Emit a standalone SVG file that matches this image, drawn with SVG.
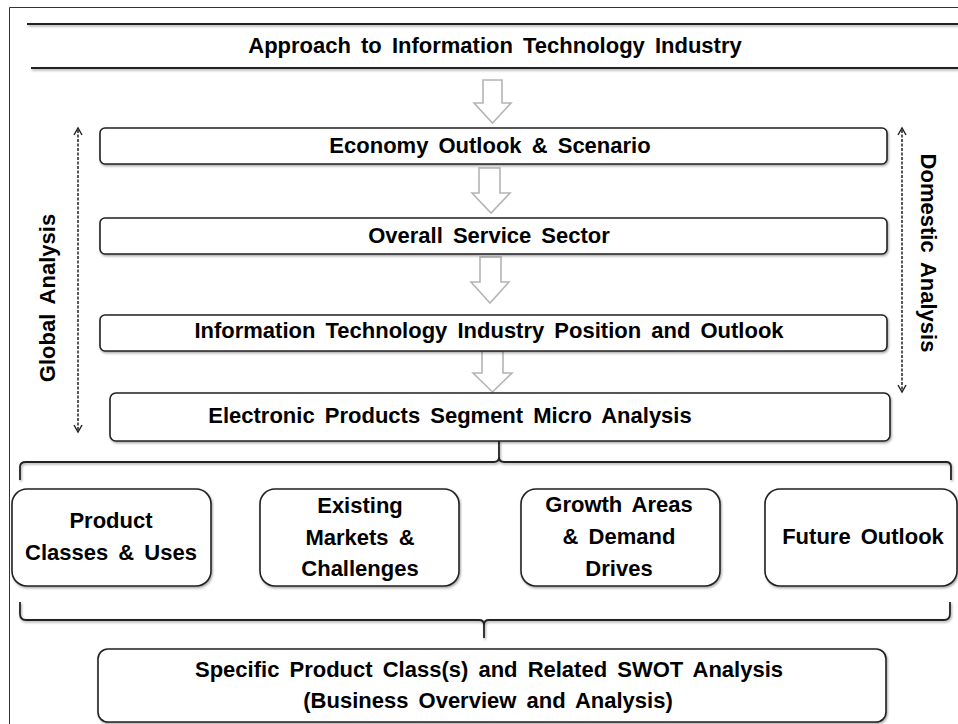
<svg xmlns="http://www.w3.org/2000/svg" width="958" height="724" viewBox="0 0 958 724">
<defs>
<style>
text{font-family:"Liberation Sans",Arial,sans-serif;font-weight:bold;font-size:22px;fill:#000;text-anchor:middle;word-spacing:4px}
.box{fill:#fff;stroke:#222;stroke-width:1.6}
.hollow{fill:#fff;stroke:#b4b4b4;stroke-width:1.6;stroke-linejoin:miter}
.line{fill:none;stroke:#222;stroke-width:1.8}
.dash{fill:none;stroke:#222;stroke-width:1.5;stroke-dasharray:3 1.5}
.head{fill:none;stroke:#222;stroke-width:1.4}
</style>
<filter id="sh" x="-5%" y="-20%" width="110%" height="150%">
<feDropShadow dx="1" dy="1.5" stdDeviation="0.8" flood-color="#000" flood-opacity="0.35"/>
</filter>
</defs>
<rect x="0" y="0" width="958" height="724" fill="#fff"/>
<path d="M9.5 724 V7.5 H958" fill="none" stroke="#333" stroke-width="1"/>

<g id="title">
<path class="line" filter="url(#sh)" d="M27 24 H958 M31 68 H958"/>
<text x="495" y="53">Approach to Information Technology Industry</text>
</g>

<g id="connectors">
<path class="hollow" d="M483 80 H502 V103 H511 L492.5 123 L474 103 H483 Z"/>
<path class="hollow" d="M479 168 H500 V193 H510 L491 213 L472 193 H479 Z"/>
<path class="hollow" d="M480 257 H501 V282 H509 L490 303 L471 282 H480 Z"/>
<path class="hollow" d="M482 351 H503 V373 H512 L492.5 392 L473 373 H482 Z"/>
<path class="dash" d="M78 130 V430"/>
<path class="head" d="M74 135 L78 128 L82 135 M74 425 L78 432 L82 425"/>
<path class="dash" d="M902 130 V390"/>
<path class="head" d="M898 135 L902 128 L906 135 M898 385 L902 392 L906 385"/>
<path class="line" filter="url(#sh)" d="M20 480 V467 Q20 462 26 462 H494 Q499 462 499 457 V441 M499 457 Q499 462 504 462 H946 Q951 462 951 467 V480"/>
<path class="line" filter="url(#sh)" d="M20 602 V614 Q20 620 26 620 H479 Q484 620 484 625 V638 M484 625 Q484 620 489 620 H944 Q950 620 950 614 V602"/>
</g>

<g id="economy">
<rect class="box" filter="url(#sh)" x="100" y="128" width="787" height="36" rx="5"/>
<text x="490" y="153">Economy Outlook &amp; Scenario</text>
</g>
<g id="service">
<rect class="box" filter="url(#sh)" x="100" y="218" width="787" height="36" rx="5"/>
<text x="489" y="243">Overall Service Sector</text>
</g>
<g id="it">
<rect class="box" filter="url(#sh)" x="100" y="315" width="787" height="36" rx="5"/>
<text x="489" y="338">Information Technology Industry Position and Outlook</text>
</g>
<g id="electronic">
<rect class="box" filter="url(#sh)" x="110" y="393" width="780" height="48" rx="6"/>
<text x="450" y="423">Electronic Products Segment Micro Analysis</text>
</g>

<g id="global">
<text transform="translate(55 298) rotate(-90)" x="0" y="0">Global Analysis</text>
</g>
<g id="domestic">
<text transform="translate(921 253) rotate(90)" x="0" y="0">Domestic Analysis</text>
</g>

<g id="product">
<rect class="box" filter="url(#sh)" x="12" y="489" width="199" height="97" rx="15"/>
<text x="111" y="528">Product</text>
<text x="111" y="560">Classes &amp; Uses</text>
</g>
<g id="existing">
<rect class="box" filter="url(#sh)" x="260" y="489" width="199" height="97" rx="15"/>
<text x="360" y="513">Existing</text>
<text x="360" y="545">Markets &amp;</text>
<text x="360" y="576">Challenges</text>
</g>
<g id="growth">
<rect class="box" filter="url(#sh)" x="521" y="489" width="199" height="97" rx="15"/>
<text x="619" y="512">Growth Areas</text>
<text x="619" y="544">&amp; Demand</text>
<text x="619" y="576">Drives</text>
</g>
<g id="future">
<rect class="box" filter="url(#sh)" x="765" y="489" width="192" height="97" rx="15"/>
<text x="863" y="544">Future Outlook</text>
</g>

<g id="specific">
<rect class="box" filter="url(#sh)" x="98" y="649" width="788" height="73" rx="10"/>
<text x="489" y="677">Specific Product Class(s) and Related SWOT Analysis</text>
<text x="488" y="708">(Business Overview and Analysis)</text>
</g>
</svg>
